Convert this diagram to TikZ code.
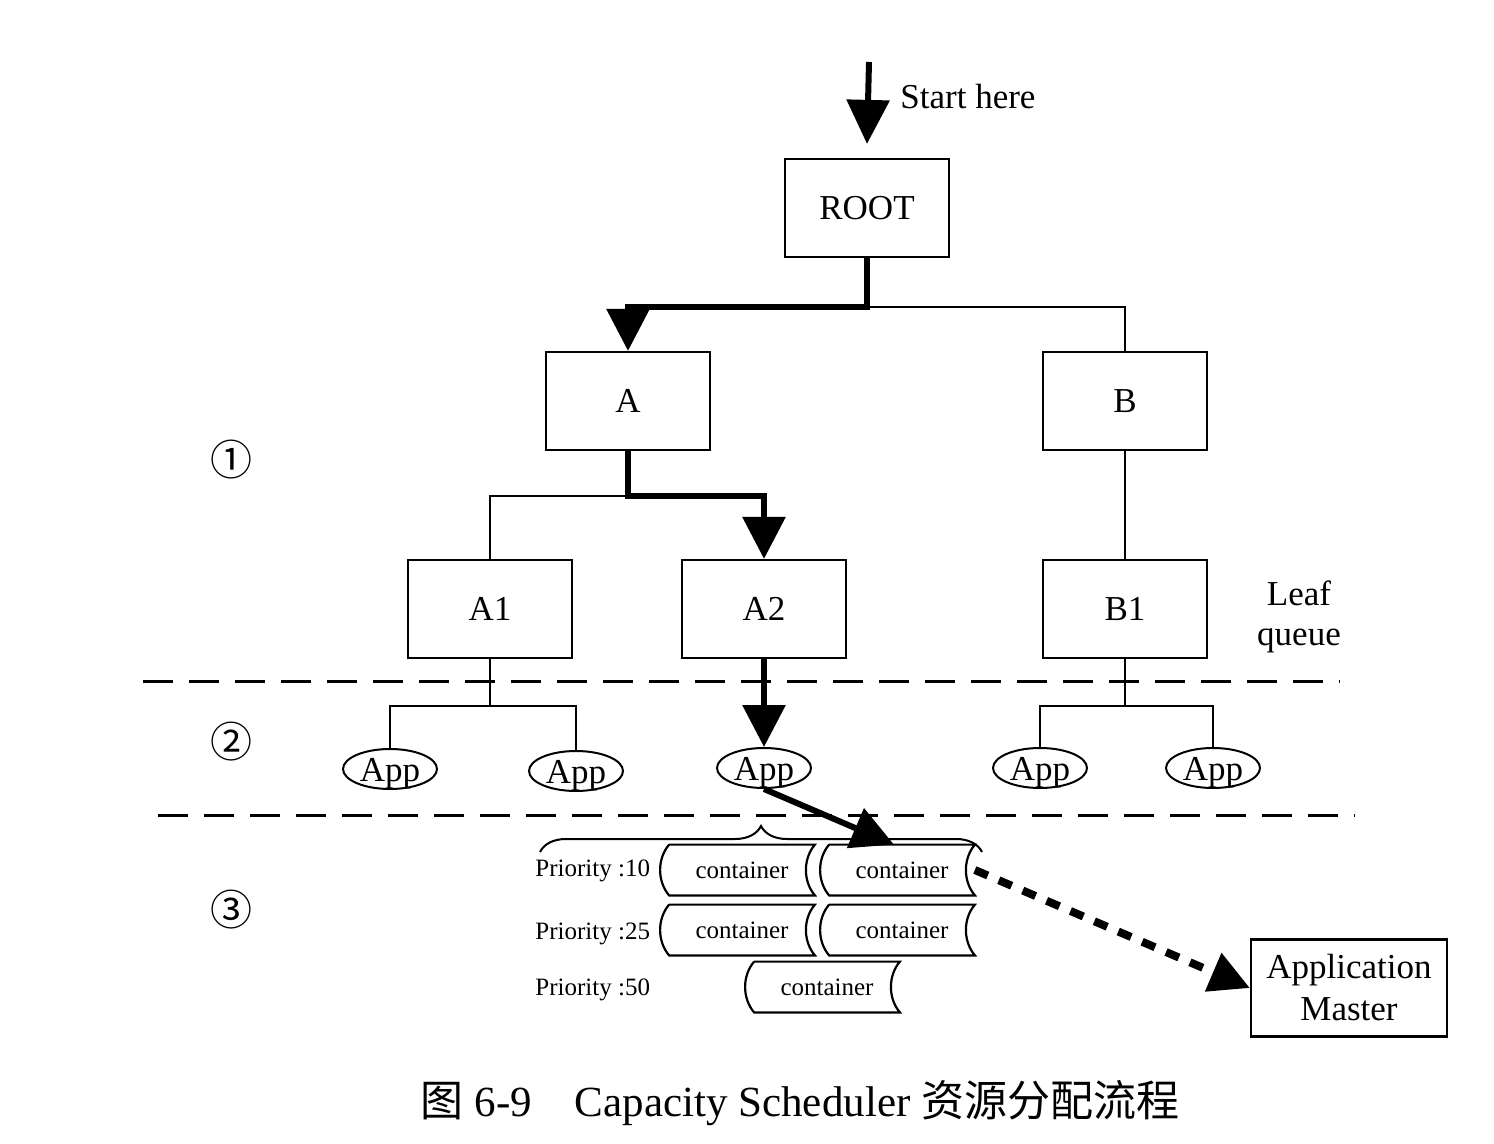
\documentclass[tikz,border=0pt]{standalone}
\usepackage{fontspec}
\setmainfont{Liberation Serif}
\newfontfamily\cjk{Noto Sans CJK SC}
\usetikzlibrary{arrows.meta,shapes.geometric,decorations.pathreplacing,calc}
\begin{document}
\begin{tikzpicture}[x=0.5pt,y=-0.5pt,
  mainfont/.style={font=\fontsize{17.5}{20}\selectfont},
  qbox/.style={draw,line width=1.1pt,minimum width=82pt,minimum height=49pt,inner sep=0pt,mainfont},
  app/.style={draw,ellipse,line width=1pt,minimum width=47pt,minimum height=20pt,inner sep=0pt,text height=12pt,text depth=0pt,mainfont},
  cont/.style={minimum width=72.5pt,minimum height=25pt,inner sep=0pt,font=\fontsize{12.5}{14}\selectfont},
  prio/.style={anchor=west,inner sep=0pt,font=\fontsize{12.5}{14}\selectfont},
  thn/.style={line width=1pt},
  thk/.style={line width=3pt},
  bigtip/.style={-{Triangle[length=21pt,width=21pt]}},
  sep/.style={line width=1.5pt,dash pattern=on 15pt off 8pt},
  circ/.style={font=\cjk\fontsize{21}{24}\selectfont,inner sep=0pt}
]
\useasboundingbox (0,0) rectangle (1494,1144);

% nodes
\node[qbox] (root) at (867,208) {ROOT};
\node[qbox] (A) at (628,401) {A};
\node[qbox] (B) at (1125,401) {B};
\node[qbox] (A1) at (490,609) {A1};
\node[qbox] (A2) at (764,609) {A2};
\node[qbox] (B1) at (1125,609) {B1};
\node[mainfont,align=center,inner sep=0pt] (leaf) at (1299,617) {Leaf\\queue};

\node[app] (app1) at (390,769) {App};
\node[app] (app2) at (576,771) {App};
\node[app] (app3) at (764,768) {App};
\node[app] (app4) at (1040,768) {App};
\node[app] (app5) at (1213,768) {App};

\node[cont] (c11) at (742,870) {container};
\node[cont] (c12) at (902,870) {container};
\node[cont] (c21) at (742,930) {container};
\node[cont] (c22) at (902,930) {container};
\node[cont] (c3) at (827,987) {container};

\node[prio] (p1) at (535,871) {Priority :10};
\node[prio] (p2) at (535,934) {Priority :25};
\node[prio] (p3) at (535,990) {Priority :50};

\node[draw,line width=1.1pt,minimum width=98pt,minimum height=48.5pt,inner sep=0pt,align=center,mainfont] (am) at (1349,988) {Application\\[1pt]Master};

\node[circ] (n1) at (231,460) {①};
\node[circ] (n2) at (231,742) {②};
\node[circ] (n3) at (231,910) {③};

\node[mainfont,anchor=west,inner sep=0pt] (sh) at (900,97) {Start here};
\coordinate (start) at (869,62);

\node[font=\fontsize{21.5}{24}\selectfont,inner sep=0pt] (cap) at (800,1103) {{\cjk 图} 6-9\quad Capacity Scheduler {\cjk 资源分配流程}};

% container outlines
\foreach \n in {c11,c12,c21,c22,c3}{
  \draw[line width=1.1pt] (\n.north west) -- (\n.north east)
    .. controls ([xshift=-6pt,yshift=-7pt]\n.north east) and ([xshift=-6pt,yshift=7pt]\n.south east) .. (\n.south east)
    -- (\n.south west)
    .. controls ([xshift=-6pt,yshift=7pt]\n.south west) and ([xshift=-6pt,yshift=-7pt]\n.north west) .. (\n.north west);
}

% separators
\draw[sep] (143,681) -- (1340,681);
\draw[sep] (158,815) -- (1355,815);

% tree connectors
\coordinate (rj) at (867,307);
\coordinate (aj) at (628,496);
\coordinate (a1j) at (490,706);
\coordinate (b1j) at (1125,706);

\draw[thk,-{Triangle[length=22pt,width=21pt]}] (start) -- ([yshift=7pt]root.north);
\draw[thn] (rj) -| (B.north);
\draw[thk,bigtip] (root.south) -- (rj) -| (A.north);
\draw[thn] (aj) -| (A1.north);
\draw[thk,bigtip] (A.south) -- (aj) -| (A2.north);
\draw[thn] (B.south) -- (B1.north);
\draw[thn] (A1.south) -- (a1j);
\draw[thn] (a1j) -| (app1.north);
\draw[thn] (a1j) -| (app2.north);
\draw[thn] (B1.south) -- (b1j);
\draw[thn] (b1j) -| (app4.north);
\draw[thn] (b1j) -| (app5.north);
\draw[thk,bigtip] (A2.south) -- (app3.north);

% app to container
\draw[thk,bigtip] (app3.south) -- ([xshift=-4pt]c12.north);

% brace
\draw[line width=1pt,decorate,decoration={brace,amplitude=13pt}] (540,852) -- (982,852);

% dashed arrow to AM
\draw[line width=4pt,dash pattern=on 7pt off 6pt,-{Triangle[length=20pt,width=20pt]}] (c12.east) -- (am.west);
\end{tikzpicture}
\end{document}
